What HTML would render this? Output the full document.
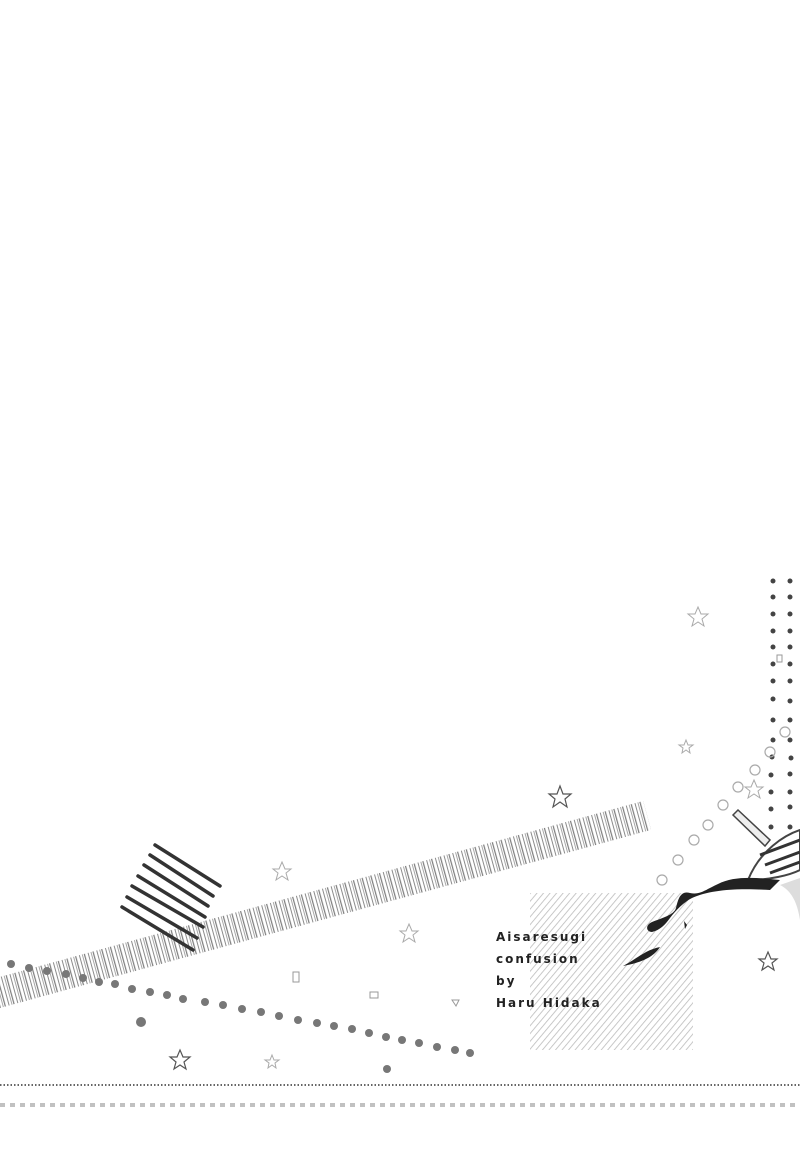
<!DOCTYPE html>
<html><head><meta charset="utf-8"><style>
html,body{margin:0;padding:0;background:#fff;width:800px;height:1166px;overflow:hidden}
.t{position:absolute;left:496px;font-family:"DejaVu Sans","Liberation Sans",sans-serif;font-size:12px;font-weight:bold;letter-spacing:2px;color:#222;line-height:22px}
</style></head><body>
<svg width="800" height="1166" style="position:absolute;left:0;top:0">
<defs>
<pattern id="bc" width="9" height="30" patternUnits="userSpaceOnUse">
<rect x="0" y="0" width="1" height="30" fill="#777"/><rect x="3" y="0" width="1" height="30" fill="#999"/><rect x="5" y="0" width="1.2" height="30" fill="#666"/>
</pattern>
<pattern id="hatch" width="5" height="5" patternUnits="userSpaceOnUse" patternTransform="rotate(-50)">
<rect width="5" height="0.8" fill="#bbb"/>
</pattern>
</defs>
<g transform="translate(0,1008) rotate(-15.3)">
<rect x="0" y="-30" width="675" height="30" fill="url(#bc)" opacity="0.85"/>
</g>
<g stroke="#333" stroke-width="3.5" stroke-linecap="round">
<line x1="155" y1="845" x2="220" y2="886"/>
<line x1="150" y1="855" x2="213" y2="896"/>
<line x1="144" y1="865" x2="208" y2="906"/>
<line x1="138" y1="876" x2="205" y2="917"/>
<line x1="132" y1="886" x2="203" y2="927"/>
<line x1="127" y1="897" x2="197" y2="938"/>
<line x1="122" y1="907" x2="193" y2="950"/>
</g>
<g fill="#777">
<circle cx="11" cy="964" r="4"/><circle cx="29" cy="968" r="4"/><circle cx="47" cy="971" r="4"/><circle cx="66" cy="974" r="4"/><circle cx="83" cy="978" r="4"/><circle cx="99" cy="982" r="4"/><circle cx="115" cy="984" r="4"/><circle cx="132" cy="989" r="4"/><circle cx="150" cy="992" r="4"/><circle cx="167" cy="995" r="4"/><circle cx="183" cy="999" r="4"/><circle cx="205" cy="1002" r="4"/><circle cx="223" cy="1005" r="4"/><circle cx="242" cy="1009" r="4"/><circle cx="261" cy="1012" r="4"/><circle cx="279" cy="1016" r="4"/><circle cx="298" cy="1020" r="4"/><circle cx="317" cy="1023" r="4"/><circle cx="334" cy="1026" r="4"/><circle cx="352" cy="1029" r="4"/><circle cx="369" cy="1033" r="4"/><circle cx="386" cy="1037" r="4"/><circle cx="402" cy="1040" r="4"/><circle cx="419" cy="1043" r="4"/><circle cx="437" cy="1047" r="4"/><circle cx="455" cy="1050" r="4"/><circle cx="470" cy="1053" r="4"/>
<circle cx="141" cy="1022" r="5"/><circle cx="387" cy="1069" r="4"/>
</g>
<line x1="0" y1="1085" x2="800" y2="1085" stroke="#333" stroke-width="1.5" stroke-dasharray="1.5 2"/>
<line x1="0" y1="1105" x2="800" y2="1105" stroke="#999" stroke-width="4" stroke-dasharray="5 5" opacity="0.6"/>
<rect x="530" y="893" width="163" height="157" fill="url(#hatch)"/>
<g fill="#444">
<circle cx="773" cy="581" r="2.5"/><circle cx="790" cy="581" r="2.5"/>
<circle cx="773" cy="597" r="2.5"/><circle cx="790" cy="597" r="2.5"/>
<circle cx="773" cy="614" r="2.5"/><circle cx="790" cy="614" r="2.5"/>
<circle cx="773" cy="631" r="2.5"/><circle cx="790" cy="631" r="2.5"/>
<circle cx="773" cy="647" r="2.5"/><circle cx="790" cy="647" r="2.5"/>
<circle cx="773" cy="664" r="2.5"/><circle cx="790" cy="664" r="2.5"/>
<circle cx="773" cy="681" r="2.5"/><circle cx="790" cy="681" r="2.5"/>
<circle cx="773" cy="699" r="2.5"/><circle cx="790" cy="701" r="2.5"/>
<circle cx="773" cy="720" r="2.5"/><circle cx="790" cy="720" r="2.5"/>
<circle cx="773" cy="740" r="2.5"/><circle cx="790" cy="740" r="2.5"/>
<circle cx="772" cy="757" r="2.5"/><circle cx="791" cy="758" r="2.5"/>
<circle cx="771" cy="775" r="2.5"/><circle cx="790" cy="774" r="2.5"/>
<circle cx="771" cy="792" r="2.5"/><circle cx="790" cy="792" r="2.5"/>
<circle cx="771" cy="809" r="2.5"/><circle cx="790" cy="807" r="2.5"/>
<circle cx="771" cy="827" r="2.5"/><circle cx="790" cy="827" r="2.5"/>
</g>
<g fill="none" stroke="#aaa" stroke-width="1.2">
<circle cx="662" cy="880" r="5"/><circle cx="678" cy="860" r="5"/><circle cx="694" cy="840" r="5"/><circle cx="708" cy="825" r="5"/><circle cx="723" cy="805" r="5"/><circle cx="738" cy="787" r="5"/><circle cx="755" cy="770" r="5"/><circle cx="770" cy="752" r="5"/><circle cx="785" cy="732" r="5"/>
</g>
<g fill="none" stroke="#555" stroke-width="1.2">
<polygon points="560,786 563,794 571,794 565,799 567,807 560,802 553,807 555,799 549,794 557,794"/>
<polygon points="180,1050 183,1057 190,1057 184,1062 186,1069 180,1065 174,1069 176,1062 170,1057 177,1057"/>
<polygon points="768,952 771,959 777,959 772,963 774,970 768,966 762,970 764,963 759,959 765,959"/>
</g>
<g fill="none" stroke="#aaa" stroke-width="1">
<polygon points="698,607 701,614 708,614 702,619 704,626 698,622 692,626 694,619 688,614 695,614"/>
<polygon points="282,862 285,869 291,869 286,873 288,880 282,876 276,880 278,873 273,869 279,869"/>
<polygon points="409,924 412,931 418,931 413,935 415,942 409,938 403,942 405,935 400,931 406,931"/>
<polygon points="686,740 688,745 693,745 689,748 690,753 686,750 682,753 683,748 679,745 684,745"/>
<polygon points="754,780 757,787 763,787 758,791 760,798 754,794 748,798 750,791 745,787 751,787"/>
<polygon points="272,1055 274,1060 279,1060 275,1063 276,1068 272,1065 268,1068 269,1063 265,1060 270,1060"/>
</g>
<g fill="none" stroke="#999" stroke-width="1">
<rect x="293" y="972" width="6" height="10"/><rect x="370" y="992" width="8" height="6"/><rect x="777" y="655" width="5" height="7"/>
<polygon points="452,1000 459,1000 456,1006"/>
</g>
<path d="M733,815 L738,810 L770,840 L765,846 Z" fill="#eee" stroke="#444" stroke-width="1.5"/>
<path d="M748,880 C760,850 785,835 800,830 L800,870 C790,875 770,880 748,880 Z" fill="#fff" stroke="#444" stroke-width="2"/>
<path d="M760,855 L800,840 M765,865 L800,852 M770,873 L800,862" stroke="#333" stroke-width="3"/>
<path d="M780,885 C790,890 797,900 800,920 L800,878 Z" fill="#ddd"/>
<path d="M780,880 C760,878 735,875 718,884 C705,890 700,895 690,893 C680,890 678,900 676,908 C674,915 662,918 652,922 C645,925 646,932 652,932 C660,930 665,925 670,918 C676,910 684,902 692,898 C710,890 735,888 770,890 Z" fill="#222"/>
<path d="M623,966 C635,960 645,950 660,947 C655,955 645,962 623,966 Z" fill="#222"/>
<path d="M684,921 L687,925 L685,929 Z" fill="#222"/>
</svg>
<div class="t" style="top:926px">Aisaresugi<br>confusion<br>by<br>Haru Hidaka</div>
</body></html>
